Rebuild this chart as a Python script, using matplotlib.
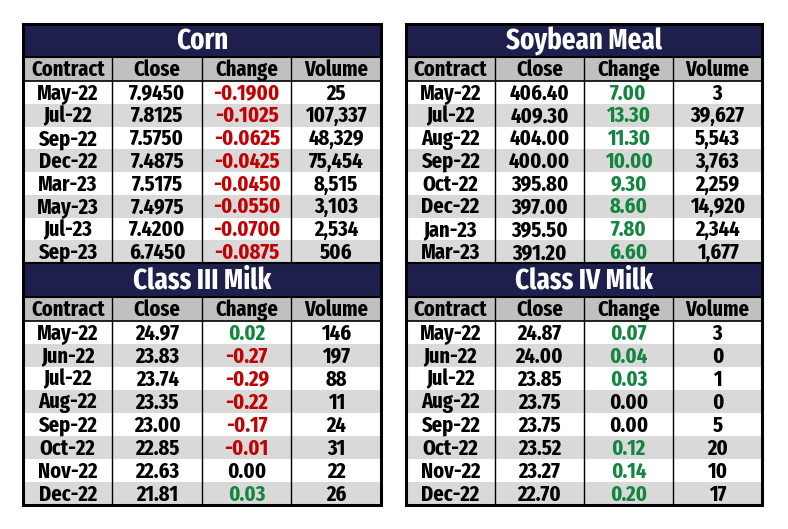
import matplotlib
matplotlib.use("Agg")
import matplotlib.pyplot as plt
from matplotlib.patches import Rectangle

# ---------------- data ----------------
headers = ["Contract", "Close", "Change", "Volume"]

corn_contracts = ["May-22", "Jul-22", "Sep-22", "Dec-22", "Mar-23", "May-23", "Jul-23", "Sep-23"]
corn_close = [7.9450, 7.8125, 7.5750, 7.4875, 7.5175, 7.4975, 7.4200, 6.7450]
corn_change = [-0.1900, -0.1025, -0.0625, -0.0425, -0.0450, -0.0550, -0.0700, -0.0875]
corn_volume = [25, 107337, 48329, 75454, 8515, 3103, 2534, 506]

meal_contracts = ["May-22", "Jul-22", "Aug-22", "Sep-22", "Oct-22", "Dec-22", "Jan-23", "Mar-23"]
meal_close = [406.40, 409.30, 404.00, 400.00, 395.80, 397.00, 395.50, 391.20]
meal_change = [7.00, 13.30, 11.30, 10.00, 9.30, 8.60, 7.80, 6.60]
meal_volume = [3, 39627, 5543, 3763, 2259, 14920, 2344, 1677]

milk3_contracts = ["May-22", "Jun-22", "Jul-22", "Aug-22", "Sep-22", "Oct-22", "Nov-22", "Dec-22"]
milk3_close = [24.97, 23.83, 23.74, 23.35, 23.00, 22.85, 22.63, 21.81]
milk3_change = [0.02, -0.27, -0.29, -0.22, -0.17, -0.01, 0.00, 0.03]
milk3_volume = [146, 197, 88, 11, 24, 31, 22, 26]

milk4_contracts = ["May-22", "Jun-22", "Jul-22", "Aug-22", "Sep-22", "Oct-22", "Nov-22", "Dec-22"]
milk4_close = [24.87, 24.00, 23.85, 23.75, 23.75, 23.52, 23.27, 22.70]
milk4_change = [0.07, 0.04, 0.03, 0.00, 0.00, 0.12, 0.14, 0.20]
milk4_volume = [3, 0, 1, 0, 5, 20, 10, 17]

# ---------------- style ----------------
W, H = 788, 529
NAVY = "#1e1f4d"
HDR = "#c0c0c0"
ALT = "#d9d9d9"
RED = "#c00000"
GREEN = "#14853f"
FONT = ["Fira Sans Extra Condensed", "Fira Sans Condensed", "DejaVu Sans"]

fig = plt.figure(figsize=(W / 100, H / 100), dpi=100)
ax = fig.add_axes([0, 0, 1, 1])
ax.set_xlim(0, W)
ax.set_ylim(H, 0)
ax.axis("off")


def draw_block(x0, x1, y_top, y_title, y_hdr, y_end, title, contracts, close, change, volume, dec):
    ncol = 4
    cw = (x1 - x0) / ncol
    # title
    ax.add_patch(Rectangle((x0, y_top), x1 - x0, y_title - y_top, facecolor=NAVY, edgecolor="none"))
    ax.text((x0 + x1) / 2, (y_top + y_title) / 2 + 1, title, color="white", ha="center", va="center",
            fontsize=21, fontweight="bold", family=FONT)
    # header
    ax.add_patch(Rectangle((x0, y_title), x1 - x0, y_hdr - y_title, facecolor=HDR, edgecolor="none"))
    for j, h in enumerate(headers):
        ax.text(x0 + cw * (j + 0.5), (y_title + y_hdr) / 2 + 1, h, ha="center", va="center",
                fontsize=16, fontweight="bold", color="black", family=FONT)
    n = len(contracts)
    rh = (y_end - y_hdr) / n
    for i in range(n):
        yt = y_hdr + i * rh
        ax.add_patch(Rectangle((x0, yt), x1 - x0, rh, facecolor=("white" if i % 2 == 0 else ALT),
                               edgecolor="none"))
        ch = change[i]
        col = RED if ch < 0 else (GREEN if ch > 0 else "black")
        vals = [contracts[i], f"{close[i]:.{dec}f}", f"{ch:.{dec}f}", f"{volume[i]:,}"]
        cols = ["black", "black", col, "black"]
        for j, (v, c) in enumerate(zip(vals, cols)):
            ax.text(x0 + cw * (j + 0.5), yt + rh / 2 + 1, v, ha="center", va="center",
                    fontsize=16, fontweight="bold", color=c, family=FONT)
    # lines
    ax.plot([x0, x1], [y_title, y_title], color="black", lw=1.5)
    ax.plot([x0, x1], [y_hdr, y_hdr], color="black", lw=1.2)
    for j in range(1, ncol):
        xx = x0 + cw * j
        ax.plot([xx, xx], [y_title, y_end], color="black", lw=1.0)


def draw_panel(x0, x1, top_title, top_data, bot_title, bot_data, dec_top, dec_bot):
    y0, y1, y2, y3 = 24, 57, 81, 263
    y4, y5, y6 = 297, 321, 505
    draw_block(x0, x1, y0, y1, y2, y3, top_title, *top_data, dec_top)
    draw_block(x0, x1, y3, y4, y5, y6, bot_title, *bot_data, dec_bot)
    ax.plot([x0, x1], [y3, y3], color="black", lw=1.5)
    ax.add_patch(Rectangle((x0, y0), x1 - x0, y6 - y0, facecolor="none", edgecolor="black", lw=2.2))


draw_panel(23, 381, "Corn", (corn_contracts, corn_close, corn_change, corn_volume),
           "Class III Milk", (milk3_contracts, milk3_close, milk3_change, milk3_volume), 4, 2)
draw_panel(406, 762, "Soybean Meal", (meal_contracts, meal_close, meal_change, meal_volume),
           "Class IV Milk", (milk4_contracts, milk4_close, milk4_change, milk4_volume), 2, 2)

fig.savefig("out.png", dpi=100, facecolor="white")
